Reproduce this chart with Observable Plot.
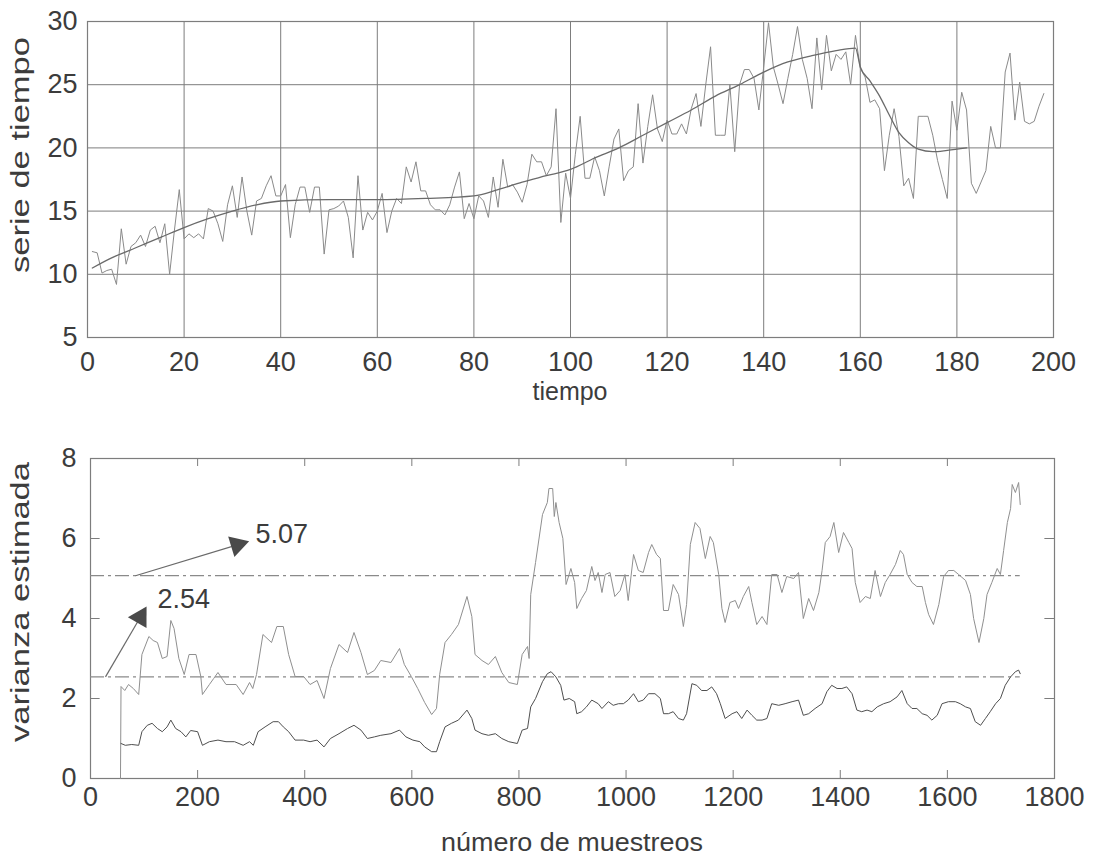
<!DOCTYPE html>
<html><head><meta charset="utf-8">
<script src="https://cdn.jsdelivr.net/npm/d3@7"></script>
<script src="https://cdn.jsdelivr.net/npm/@observablehq/plot@0.6"></script>
<style>
body{margin:0;background:#fff;}
#chart{width:1093px;height:858px;position:relative;background:#fff;}
#chart svg{display:block;}
</style></head><body><div id="chart"></div>
<script>
// ---------- top panel data ----------
const topXTicks = [0,20,40,60,80,100,120,140,160,180,200];
const topYTicks = [5,10,15,20,25,30];
const serieValues = [
 11.8,11.7,10.1,10.3,10.4,9.2,13.6,10.8,12.2,12.5,
 13.1,12.2,13.5,13.8,12.5,14.0,10.0,13.5,16.7,12.8,
 13.2,12.9,13.2,12.8,15.2,15.0,14.0,12.6,15.5,17.0,
 14.5,17.7,15.0,13.1,15.8,16.0,17.0,17.8,16.2,16.2,
 17.1,12.9,15.5,16.9,16.9,14.9,16.9,16.9,11.6,15.1,
 15.2,15.4,15.8,14.5,11.3,17.8,13.5,14.9,14.3,15.0,
 16.4,13.3,15.0,16.0,15.6,18.5,17.3,18.9,16.6,16.6,
 15.5,15.1,15.1,14.7,15.5,16.9,18.1,14.4,15.6,14.4,
 16.2,15.8,14.5,17.7,15.3,19.1,16.9,17.1,16.5,15.7,
 17.1,19.5,18.9,18.9,17.8,18.5,23.1,14.1,18.0,16.0,
 19.5,22.5,17.6,17.6,19.3,18.2,16.2,18.5,20.7,21.5,
 17.4,18.2,18.5,23.5,18.8,21.7,24.2,21.5,20.5,22.2,
 21.1,21.1,21.9,21.1,23.1,24.3,21.7,25.0,28.0,21.0,
 21.0,21.0,25.0,19.7,25.0,26.2,26.2,25.5,23.0,26.4,
 29.9,26.4,25.0,23.5,25.5,27.4,29.6,27.0,25.5,23.1,
 28.7,24.6,28.9,26.1,27.4,27.0,27.6,25.0,28.9,26.3,
 25.6,23.6,23.8,23.1,18.2,21.0,23.1,20.9,17.0,17.6,
 16.0,22.5,22.5,22.5,21.0,19.0,17.5,16.0,23.7,21.4,
 24.4,23.0,17.2,16.4,17.3,18.2,21.7,20.0,20.0,26.0,
 27.5,22.2,25.2,22.1,21.9,22.1,23.3,24.3
];
const trendT = [1,5,10,15,20,25,30,35,40,50,60,70,80,85,90,95,100,105,110,115,120,125,130,135,140,145,150,155,159,160,162,164,166,168,170,172,175,178,182];
const trendV = [10.5,11.3,12.1,12.9,13.7,14.4,15.0,15.5,15.8,15.9,15.9,16.0,16.2,16.7,17.3,17.8,18.3,19.2,20.0,21.0,22.0,23.0,24.1,25.0,26.0,26.8,27.3,27.7,27.9,26.4,25.3,24.1,22.6,21.2,20.4,19.9,19.7,19.8,20.0];

// ---------- bottom panel data ----------
const botXTicks = [0,200,400,600,800,1000,1200,1400,1600,1800];
const botYTicks = [0,2,4,6,8];
const upperX = [56,57,64,71,80,90,96,109,117,125,134,143,150,156,165,175,184,197,206,209,222,230,238,253,272,285,297,303,310,322,338,348,360,370,382,398,410,423,436,448,464,480,492,505,517,530,542,561,577,586,599,611,624,637,646,652,662,674,687,703,712,718,731,743,756,768,781,797,806,816,819,822,831,844,853,856,863,866,869,875,882,888,897,904,908,917,926,936,942,948,955,961,970,979,989,998,1004,1014,1023,1032,1042,1048,1057,1064,1070,1079,1088,1098,1107,1113,1120,1129,1138,1148,1157,1163,1173,1179,1185,1194,1204,1210,1219,1229,1235,1244,1254,1263,1272,1282,1291,1300,1313,1322,1331,1341,1350,1360,1366,1372,1381,1388,1397,1406,1416,1422,1428,1437,1447,1456,1465,1475,1484,1493,1503,1512,1518,1525,1534,1543,1553,1559,1565,1574,1584,1593,1602,1612,1621,1634,1643,1649,1659,1668,1674,1683,1693,1699,1705,1712,1718,1721,1727,1733,1736];
const upperY = [0,2.3,2.2,2.35,2.25,2.1,3.1,3.55,3.45,3.4,3.0,3.05,3.95,3.75,3.0,2.6,3.1,3.1,2.55,2.1,2.35,2.5,2.65,2.35,2.35,2.1,2.4,2.25,2.6,3.6,3.4,3.8,3.8,3.1,2.55,2.55,2.35,2.45,2.0,2.75,3.35,3.15,3.65,3.15,2.6,2.7,2.95,2.9,3.25,2.85,2.55,2.25,1.9,1.6,1.75,2.6,3.4,3.6,3.85,4.55,4.05,3.1,2.95,2.85,3.05,2.65,2.4,2.35,3.1,3.3,3.0,4.6,5.4,6.6,6.9,7.25,7.25,6.55,6.9,6.4,6.0,4.85,5.25,4.9,4.25,4.5,4.7,5.3,4.95,5.15,4.65,5.1,5.15,4.55,4.7,5.1,4.45,5.6,5.2,5.15,5.65,5.85,5.6,5.5,4.2,4.2,4.85,4.6,3.8,4.35,5.85,6.4,6.25,5.5,6.05,5.9,5.1,4.25,3.9,4.4,4.45,4.25,4.55,4.8,4.4,3.85,4.05,3.85,5.1,5.1,4.65,5.05,5.0,5.15,4.0,4.5,4.2,4.65,5.2,5.9,6.05,6.4,5.65,6.15,5.9,5.75,4.9,4.4,4.55,4.5,5.2,4.55,4.9,5.1,5.35,5.7,5.6,5.1,4.9,4.8,4.8,4.4,4.1,3.85,4.35,5.05,5.2,5.2,5.1,4.95,4.6,4.0,3.4,4.0,4.6,4.9,5.25,5.1,5.7,6.4,6.75,7.35,7.15,7.4,6.85];
const lowerX = [57,65,77,90,96,106,115,125,134,143,150,159,169,178,187,200,209,222,238,253,269,285,297,304,313,326,341,351,360,370,382,398,410,423,436,448,464,480,492,505,517,530,542,561,577,589,602,615,624,637,646,652,662,674,687,703,712,718,731,743,756,768,781,797,806,816,822,831,844,853,860,869,878,884,894,904,908,917,926,936,948,955,967,976,986,995,1004,1014,1023,1032,1042,1054,1064,1070,1079,1088,1098,1107,1113,1123,1132,1141,1151,1160,1169,1176,1185,1198,1207,1216,1226,1235,1244,1254,1263,1272,1285,1297,1310,1322,1331,1341,1353,1366,1375,1384,1394,1403,1412,1422,1431,1440,1450,1459,1469,1481,1493,1506,1515,1525,1534,1543,1553,1562,1571,1581,1590,1602,1615,1624,1634,1643,1652,1662,1671,1680,1690,1699,1708,1718,1727,1733,1736];
const lowerY = [0.875,0.83,0.85,0.83,1.17,1.33,1.38,1.25,1.17,1.29,1.46,1.25,1.17,1.04,1.2,1.17,0.83,0.92,0.96,0.92,0.92,0.83,0.92,0.83,1.17,1.29,1.42,1.42,1.29,1.17,0.96,0.96,0.92,0.96,0.79,1.0,1.12,1.25,1.33,1.21,1.0,1.04,1.08,1.12,1.21,1.04,0.96,0.92,0.79,0.67,0.67,0.92,1.29,1.38,1.46,1.71,1.5,1.21,1.12,1.08,1.12,1.0,0.92,0.875,1.21,1.25,1.79,2.0,2.42,2.62,2.67,2.54,2.33,1.96,2.0,1.92,1.62,1.67,1.79,1.96,1.87,1.75,1.92,1.83,1.87,1.87,1.96,2.12,1.92,1.96,2.12,2.12,2.0,1.62,1.62,1.67,1.5,1.46,1.62,2.37,2.33,2.2,2.2,2.29,2.12,1.87,1.5,1.62,1.67,1.5,1.71,1.58,1.46,1.46,1.5,1.87,1.83,1.87,1.92,1.96,1.58,1.62,1.75,1.87,2.17,2.33,2.25,2.25,2.29,2.12,1.71,1.67,1.71,1.67,1.79,1.87,1.92,2.04,2.2,1.87,1.75,1.75,1.62,1.58,1.46,1.58,1.87,1.92,1.92,1.87,1.79,1.75,1.42,1.33,1.5,1.67,1.87,2.0,2.33,2.54,2.67,2.71,2.62];
const refValues = [5.07, 2.54];
const refEnd = 1736;
const arrowFromX = [84, 28];
const arrowFromY = [5.07, 2.54];
const arrowToX = [274, 93];
const arrowToY = [5.84, 4.03];
const annotText = ["5.07", "2.54"];
const annotX = [308, 125];
const annotY = [5.9, 4.26];

// ---------- build tables ----------
const serie = serieValues.map((v, i) => ({t: i + 1, v}));
const trend = trendT.map((t, i) => ({t, v: trendV[i]}));
const upper = upperX.map((x, i) => ({x, y: upperY[i]}));
const lower = lowerX.map((x, i) => ({x, y: lowerY[i]}));

const W = 1093;
const font = "'Liberation Sans', Arial, Helvetica, sans-serif";
const ink = "#3c3c3c";
const gridCol = "#7d7d7d";
const fmt = d => String(d);

// bottom panel geometry for arrowhead rotation
const bML = 90, bMR = 39, bMT = 38, bMB = 80, bH = 438;
const bx = v => bML + v / 1800 * (W - bML - bMR);
const by = v => bMT + (1 - v / 8) * (bH - bMT - bMB);
const arrows = arrowFromX.map((x1, i) => {
  const dx = bx(arrowToX[i]) - bx(x1), dy = by(arrowToY[i]) - by(arrowFromY[i]);
  return {x1, y1: arrowFromY[i], x2: arrowToX[i], y2: arrowToY[i], rot: 90 + Math.atan2(dy, dx) * 180 / Math.PI};
});
const annots = annotText.map((text, i) => ({text, x: annotX[i], y: annotY[i]}));

const topPlot = Plot.plot({
  width: W, height: 420,
  marginTop: 21, marginBottom: 83, marginLeft: 87, marginRight: 40,
  style: {fontFamily: font, fontSize: "27px", color: ink, background: "#fff", overflow: "visible"},
  x: {domain: [0, 200]},
  y: {domain: [5, 30]},
  marks: [
    Plot.gridX(topXTicks, {stroke: gridCol, strokeOpacity: 1, strokeWidth: 1}),
    Plot.gridY(topYTicks, {stroke: gridCol, strokeOpacity: 1, strokeWidth: 1}),
    Plot.frame({stroke: gridCol, strokeWidth: 1.2}),
    Plot.axisX(topXTicks, {tickSize: 0, tickPadding: 14, label: null, fontSize: 27, tickFormat: fmt}),
    Plot.axisY(topYTicks, {tickSize: 0, tickPadding: 10, label: null, fontSize: 27, tickFormat: fmt}),
    Plot.line(serie, {x: "t", y: "v", stroke: "#8a8a8a", strokeWidth: 1}),
    Plot.line(trend, {x: "t", y: "v", curve: "monotone-x", stroke: "#6a6a6a", strokeWidth: 1.3})
  ]
});

const botPlot = Plot.plot({
  width: W, height: bH,
  marginTop: bMT, marginBottom: bMB, marginLeft: bML, marginRight: bMR,
  style: {fontFamily: font, fontSize: "27px", color: ink, background: "#fff", overflow: "visible"},
  x: {domain: [0, 1800]},
  y: {domain: [0, 8]},
  marks: [
    Plot.frame({stroke: gridCol, strokeWidth: 1.2}),
    Plot.axisX(botXTicks, {tickSize: 0, tickPadding: 8, label: null, fontSize: 27, tickFormat: fmt}),
    Plot.axisY(botYTicks, {tickSize: 0, tickPadding: 14, label: null, fontSize: 27, tickFormat: fmt}),
    Plot.ruleX(botXTicks, {y1: 0, y2: 0.2, stroke: gridCol}),
    Plot.ruleX(botXTicks, {y1: 8, y2: 7.8, stroke: gridCol}),
    Plot.ruleY(botYTicks, {x1: 0, x2: 18, stroke: gridCol}),
    Plot.ruleY(botYTicks, {x1: 1800, x2: 1782, stroke: gridCol}),
    Plot.ruleY(refValues, {x1: 0, x2: refEnd, stroke: "#8a8a8a", strokeWidth: 1.2, strokeDasharray: "14,4,3,4"}),
    Plot.line(upper, {x: "x", y: "y", stroke: "#8f8f8f", strokeWidth: 1}),
    Plot.line(lower, {x: "x", y: "y", stroke: "#4f4f4f", strokeWidth: 1}),
    Plot.link(arrows, {x1: "x1", y1: "y1", x2: "x2", y2: "y2", stroke: "#6a6a6a", strokeWidth: 1.2}),
    Plot.dot(arrows, {x: "x2", y: "y2", symbol: "triangle", r: 8, fill: "#4a4a4a", stroke: "none", rotate: "rot"}),
    Plot.text(annots, {x: "x", y: "y", text: "text", textAnchor: "start", lineAnchor: "bottom", fontSize: 27, fill: ink})
  ]
});

const chart = document.getElementById("chart");
chart.appendChild(topPlot);
chart.appendChild(botPlot);

function addLabel(svg, text, x, y, rotate, len, size) {
  const t = d3.select(svg).append("text")
    .attr("text-anchor", "middle")
    .attr("font-family", font)
    .attr("font-size", size)
    .attr("fill", ink)
    .attr("transform", `translate(${x},${y})` + (rotate ? " rotate(-90)" : ""))
    .text(text);
  if (len) t.attr("textLength", len).attr("lengthAdjust", "spacingAndGlyphs");
}
addLabel(topPlot, "tiempo", 570, 400, false, null, 25);
addLabel(topPlot, "serie de tiempo", 29, 155, true, 236, 25);
addLabel(botPlot, "número de muestreos", 572, 431, false, 262, 26);
addLabel(botPlot, "varianza estimada", 29, 182, true, 280, 25);
</script></body></html>
